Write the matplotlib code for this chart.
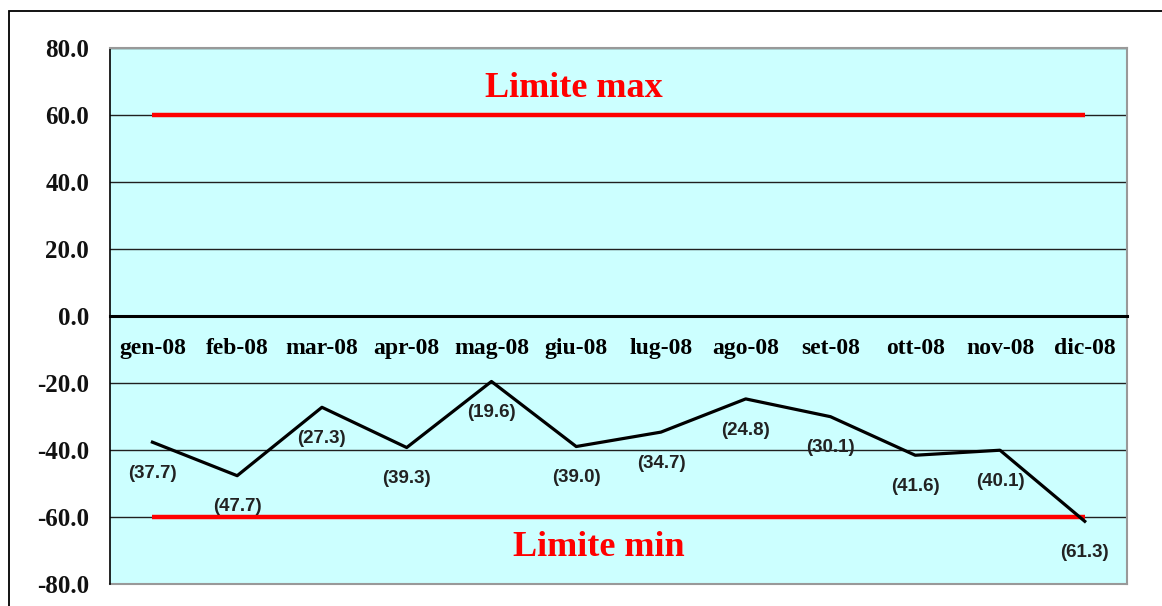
import matplotlib
matplotlib.use("Agg")
import matplotlib.pyplot as plt
from matplotlib.patches import Rectangle

# monthly values
months = ["gen-08", "feb-08", "mar-08", "apr-08", "mag-08", "giu-08",
          "lug-08", "ago-08", "set-08", "ott-08", "nov-08", "dic-08"]
values = [-37.7, -47.7, -27.3, -39.3, -19.6, -39.0,
          -34.7, -24.8, -30.1, -41.6, -40.1, -61.3]

# limits
limit_max = 60.0
limit_min = -60.0
limit_labels = ["Limite max", "Limite min"]

y_ticks = [80, 60, 40, 20, 0, -20, -40, -60, -80]

serif = "Liberation Serif"
sans = "Liberation Sans"

fig = plt.figure(figsize=(11.62, 6.06), dpi=100)
ax = fig.add_axes([0.0947, 0.0363, 0.8753, 0.8853])
ax.set_facecolor("#CCFFFF")

x = list(range(len(months)))
ax.set_xlim(-0.5, len(months) - 0.5)
ax.set_ylim(-80, 80)

# gridlines
for t in y_ticks:
    if t != 0:
        ax.axhline(t, color="#202020", lw=1.0, zorder=1)

# limit lines
ax.plot([x[0], x[-1]], [limit_max, limit_max], color="#FF0000", lw=3.2,
        solid_capstyle="butt", zorder=3)
ax.plot([x[0], x[-1]], [limit_min, limit_min], color="#FF0000", lw=3.2,
        solid_capstyle="butt", zorder=3)
ax.text(4.97, 67.8, limit_labels[0], color="#FF0000", fontsize=26,
        fontweight="bold", family=serif, ha="center", va="center")
ax.text(5.27, -69.0, limit_labels[1], color="#FF0000", fontsize=26,
        fontweight="bold", family=serif, ha="center", va="center")

# series
ax.plot(x, values, color="black", lw=2.3, zorder=4)
for xi, v in zip(x, values):
    ax.annotate("(%.1f)" % abs(v), (xi, v), xytext=(0, -22.5),
                textcoords="offset points", ha="center", va="center",
                fontsize=13.5, fontweight="bold", family=sans,
                color="#222222", zorder=5)

# category axis sits on the zero line
ax.spines["bottom"].set_position(("data", 0))
ax.spines["bottom"].set_linewidth(2.2)
ax.spines["bottom"].set_color("black")
ax.spines["bottom"].set_zorder(3)
ax.set_xticks(x)
ax.set_xticklabels(months, fontsize=17, fontweight="bold", family=serif)
ax.tick_params(axis="x", length=0, pad=16)

ax.set_yticks(y_ticks)
ax.set_yticklabels(["%.1f" % t for t in y_ticks], fontsize=18,
                   fontweight="bold", family=serif, color="#111111")
ax.tick_params(axis="y", length=0, pad=15)

ax.spines["left"].set_color("black")
ax.spines["left"].set_linewidth(1.2)
for s in ["top", "right"]:
    ax.spines[s].set_color("#999999")
    ax.spines[s].set_linewidth(1.5)
# bottom edge of plot area
ax.plot([0, 1], [0, 0], transform=ax.transAxes, color="#999999", lw=1.5,
        clip_on=False)

# outer chart frame
fig.add_artist(Rectangle((9 / 1162, -0.1), 1.2, 1 - 11 / 606 + 0.1,
                         transform=fig.transFigure, fill=False,
                         ec="black", lw=1.3))

fig.savefig("out.png", dpi=100, facecolor="white")
